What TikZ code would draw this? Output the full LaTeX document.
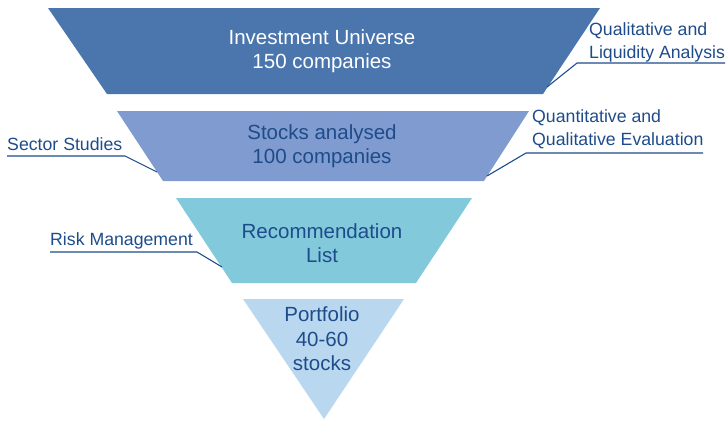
\documentclass[tikz,border=0pt]{standalone}
\usepackage{fontspec}
\setmainfont{Liberation Sans}
\definecolor{univblue}{RGB}{74,117,173}
\definecolor{stockblue}{RGB}{128,155,208}
\definecolor{recteal}{RGB}{130,201,220}
\definecolor{portblue}{RGB}{186,215,240}
\definecolor{textblue}{RGB}{30,76,138}

\begin{document}
\begin{tikzpicture}[x=1pt, y=-1pt,
    stage/.style={align=center, inner sep=0, text=textblue, font=\fontsize{20.5}{24.5}\selectfont},
    side/.style={align=left, inner sep=0, text=textblue, font=\fontsize{17.7}{23}\selectfont},
    leader/.style={draw=textblue, line width=1.1pt}]
    \useasboundingbox (0,0) rectangle (728,421);

    % 漏斗の段
    \fill[univblue] (48,8) -- (600,8) -- (543,94) -- (107,94) -- cycle;
    \fill[stockblue] (117,111) -- (529,111) -- (484,181) -- (163,181) -- cycle;
    \fill[recteal] (176,198) -- (472,198) -- (416,283) -- (232,283) -- cycle;
    \fill[portblue] (243,299) -- (404,299) -- (324,419) -- cycle;

    % 段の文字
    \node[stage, text=white] (U) at (322,51) {Investment Universe\\150 companies};
    \node[stage] (S) at (322,146) {Stocks analysed\\100 companies};
    \node[stage] (R) at (322,243) {Recommendation\\List};
    \node[stage] (P) at (322,339) {Portfolio\\40-60\\stocks};

    % 横のラベル
    \node[side, anchor=west] (LA) at (589,42) {Qualitative and\\Liquidity Analysis};
    \node[side, anchor=west] (QE) at (532,129.5) {Quantitative and\\Qualitative Evaluation};
    \node[side, anchor=base west] (SS) at (7,150) {Sector Studies};
    \node[side, anchor=base west] (RM) at (50,245) {Risk Management};

    % 引き出し線
    \coordinate (LA-a) at (725,63);
    \coordinate (LA-b) at (577,63);
    \coordinate (LA-c) at (547,87);
    \coordinate (QE-a) at (703,153);
    \coordinate (QE-b) at (526,153);
    \coordinate (QE-c) at (487,176);
    \coordinate (SS-a) at (7,156);
    \coordinate (SS-b) at (125,156);
    \coordinate (SS-c) at (157,172);
    \coordinate (RM-a) at (50,252);
    \coordinate (RM-b) at (197,252);
    \coordinate (RM-c) at (222,267);
    \draw[leader] (LA-a) -- (LA-b) -- (LA-c);
    \draw[leader] (QE-a) -- (QE-b) -- (QE-c);
    \draw[leader] (SS-a) -- (SS-b) -- (SS-c);
    \draw[leader] (RM-a) -- (RM-b) -- (RM-c);
\end{tikzpicture}
\end{document}
